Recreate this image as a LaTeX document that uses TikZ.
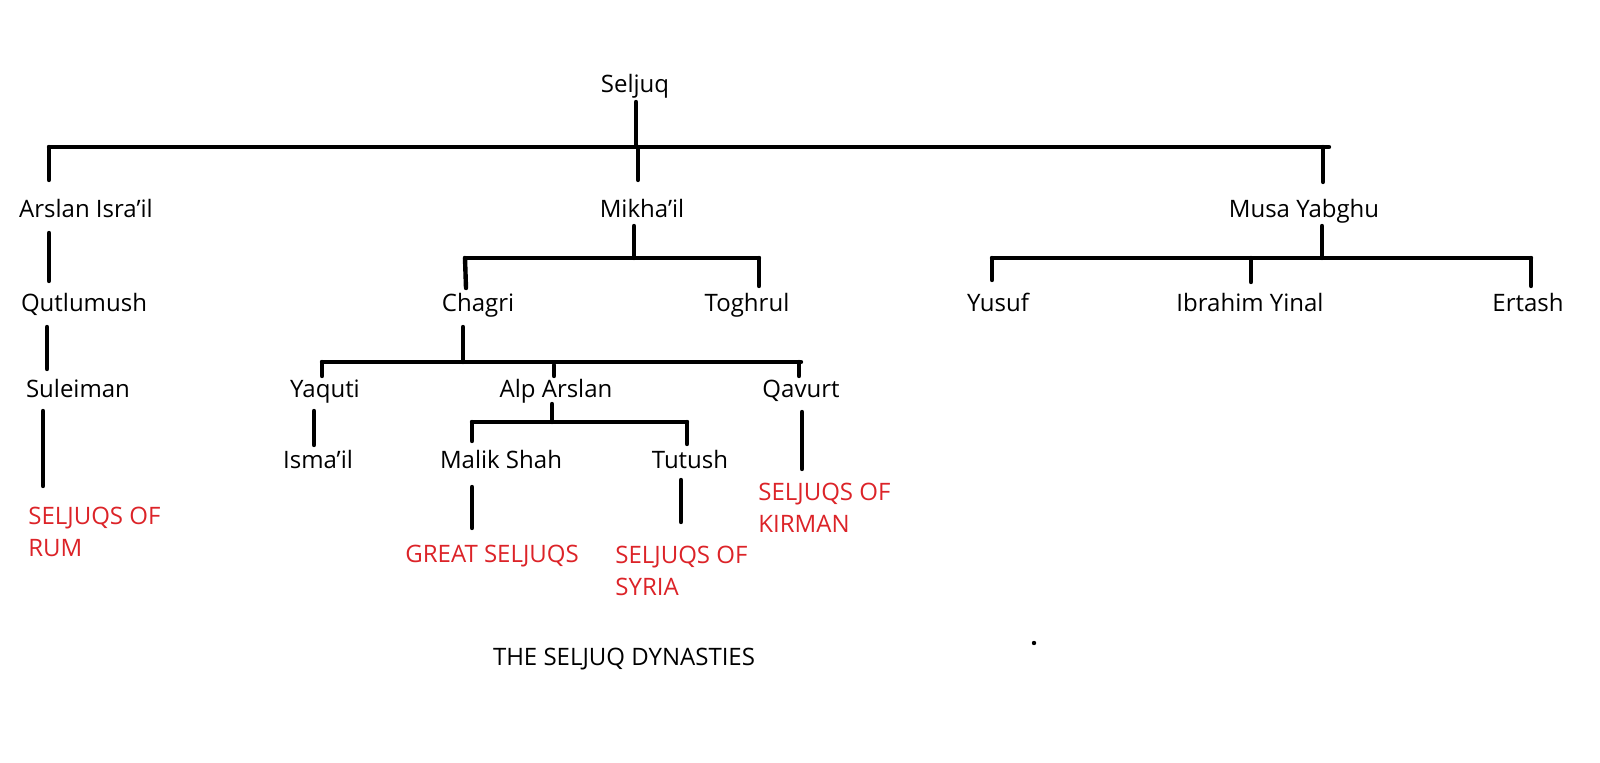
\documentclass[tikz,border=0pt]{standalone}
\usepackage{fontspec}
\setmainfont{Open Sans}
\usetikzlibrary{positioning}
\definecolor{dynred}{RGB}{220,35,40}
\tikzset{
  person/.style={font=\fontsize{12}{14}\selectfont,inner sep=0pt,text height=1.6ex,text depth=0.4ex},
  house/.style={font=\fontsize{12}{16}\selectfont,text=dynred,align=left,anchor=north west,inner sep=0pt},
  link/.style={line width=2.2pt}
}
\begin{document}
\begin{tikzpicture}[x=0.5pt,y=-0.5pt,line cap=round,line join=round]
  \fill[white] (0,0) rectangle (1600,763);
  \useasboundingbox (0,0) rectangle (1600,763);

  \node[person] (seljuq) at (635,86) {Seljuq};
  \node[person] (arslan) at (86,211) {Arslan Isra’il};
  \node[person] (mikhail) at (642,211) {Mikha’il};
  \node[person] (musa) at (1304,211) {Musa Yabghu};
  \node[person] (qutlumush) at (84,305) {Qutlumush};
  \node[person] (suleiman) at (78,391) {Suleiman};
  \node[person] (chagri) at (478,305) {Chagri};
  \node[person] (toghrul) at (747,305) {Toghrul};
  \node[person] (yusuf) at (998,305) {Yusuf};
  \node[person] (ibrahim) at (1250,305) {Ibrahim Yinal};
  \node[person] (ertash) at (1528,305) {Ertash};
  \node[person] (yaquti) at (325,391) {Yaquti};
  \node[person] (alparslan) at (556,391) {Alp Arslan};
  \node[person] (qavurt) at (801,391) {Qavurt};
  \node[person] (ismail) at (318,462) {Isma’il};
  \node[person] (malikshah) at (501,462) {Malik Shah};
  \node[person] (tutush) at (690,462) {Tutush};

  \node[house] (rum) at (28,507) {SELJUQS OF\\RUM};
  \node[house] (great) at (405,545) {GREAT SELJUQS};
  \node[house] (syria) at (615,546) {SELJUQS OF\\SYRIA};
  \node[house] (kirman) at (758,483) {SELJUQS OF\\KIRMAN};
  \node[person] (title) at (624,659) {THE SELJUQ DYNASTIES};

  \coordinate (s-top) at (636,102);
  \coordinate (s-bar) at (636,146);
  \coordinate (g1-w) at (49,147);
  \coordinate (g1-e) at (1329,147);
  \coordinate (g1-a) at (49,180);
  \coordinate (g1-m) at (638,180);
  \coordinate (g1-r) at (1323,182);

  \draw[link] (s-top) -- (s-bar);
  \draw[link] (g1-w) -- (g1-e);
  \draw[link] (g1-a) -- (g1-a |- g1-w);
  \draw[link] (g1-m) -- (g1-m |- g1-w);
  \draw[link] (g1-r) -- (g1-r |- g1-w);

  \coordinate (a1) at (49,233);
  \coordinate (a2) at (49,281);
  \coordinate (q1) at (47,327);
  \coordinate (q2) at (47,369);
  \coordinate (u1) at (43,411);
  \coordinate (u2) at (43,486);
  \draw[link] (a1) -- (a2);
  \draw[link] (q1) -- (q2);
  \draw[link] (u1) -- (u2);

  \coordinate (m1) at (634,226);
  \coordinate (g2-w) at (465,258);
  \coordinate (g2-e) at (759,258);
  \coordinate (g2-c) at (466,288);
  \coordinate (g2-t) at (759,286);
  \draw[link] (m1) -- (m1 |- g2-w);
  \draw[link] (g2-w) -- (g2-e);
  \draw[link] (g2-w) -- (g2-c);
  \draw[link] (g2-e) -- (g2-t);

  \coordinate (c1) at (463,327);
  \coordinate (g3-w) at (322,362);
  \coordinate (g3-e) at (801,362);
  \coordinate (g3-y) at (322,376);
  \coordinate (g3-a) at (554,376);
  \coordinate (g3-q) at (799,376);
  \draw[link] (c1) -- (c1 |- g3-w);
  \draw[link] (g3-w) -- (g3-e);
  \draw[link] (g3-y) -- (g3-y |- g3-w);
  \draw[link] (g3-a) -- ++(0,-11);
  \draw[link] (g3-q) -- (g3-q |- g3-w);

  \coordinate (y1) at (314,411);
  \coordinate (y2) at (314,445);
  \draw[link] (y1) -- (y2);

  \coordinate (p1) at (552,404);
  \coordinate (g4-w) at (472,422);
  \coordinate (g4-e) at (687,422);
  \coordinate (g4-m) at (472,441);
  \coordinate (g4-t) at (687,444);
  \draw[link] (p1) -- (p1 |- g4-w);
  \draw[link] (g4-w) -- (g4-e);
  \draw[link] (g4-w) -- (g4-m);
  \draw[link] (g4-e) -- (g4-t);

  \coordinate (k1) at (472,487);
  \coordinate (k2) at (472,528);
  \coordinate (t1) at (681,480);
  \coordinate (t2) at (681,522);
  \coordinate (v1) at (802,412);
  \coordinate (v2) at (802,469);
  \draw[link] (k1) -- (k2);
  \draw[link] (t1) -- (t2);
  \draw[link] (v1) -- (v2);

  \coordinate (b1) at (1322,226);
  \coordinate (g5-w) at (992,258);
  \coordinate (g5-e) at (1531,258);
  \coordinate (g5-y) at (992,280);
  \coordinate (g5-i) at (1251,282);
  \coordinate (g5-r) at (1531,286);
  \draw[link] (b1) -- (b1 |- g5-w);
  \draw[link] (g5-w) -- (g5-e);
  \draw[link] (g5-y) -- (g5-y |- g5-w);
  \draw[link] (g5-i) -- (g5-i |- g5-w);
  \draw[link] (g5-r) -- (g5-r |- g5-w);

  \coordinate (dot) at (1034,643);
  \fill (dot) circle (2.2);
\end{tikzpicture}
\end{document}
